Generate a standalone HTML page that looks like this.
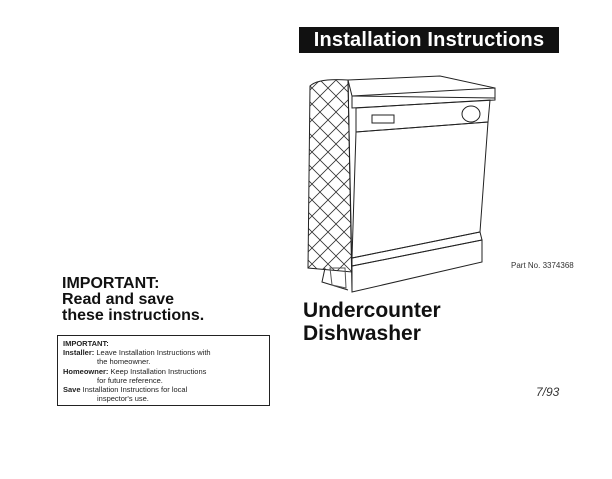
<!DOCTYPE html>
<html><head><meta charset="utf-8"><style>
body{margin:0;width:612px;height:479px;background:#fff;position:relative;overflow:hidden;font-family:"Liberation Sans",sans-serif;color:#111}
.a{position:absolute;white-space:nowrap}
</style></head><body>
<div class="a" style="left:299px;top:27px;width:260px;height:26px;background:#111;color:#fff;font-weight:bold;font-size:20px;line-height:26px;text-align:center;letter-spacing:0.2px">Installation Instructions</div>
<svg class="a" style="left:0;top:0" width="612" height="479">
<defs><pattern id="q" width="16" height="16" patternUnits="userSpaceOnUse"><path d="M0 0L16 16M16 0L0 16" stroke="#333" stroke-width="0.8"/></pattern></defs>
<path d="M310 86 Q318 78 348 80 L352 272 L308 268 Z" fill="url(#q)" stroke="#222"/>
<path d="M348 80 L440 76 L495 88 L495 98 L352 96 Z" fill="none" stroke="#222"/>
<path d="M352 96 L495 88 L495 100 L352 108 Z" fill="none" stroke="#222"/>
<path d="M356 108 L490 100 L488 122 L356 132 Z" fill="none" stroke="#222"/>
<rect x="372" y="115" width="22" height="8" fill="none" stroke="#222"/>
<ellipse cx="471" cy="114" rx="9" ry="8" fill="none" stroke="#222"/>
<path d="M356 132 L488 122 L480 232 L352 258 Z" fill="none" stroke="#222"/>
<path d="M352 258 L480 232 L482 240 L352 266 Z" fill="none" stroke="#222"/>
<path d="M352 266 L482 240 L482 262 L352 292 Z" fill="none" stroke="#222"/>
<path d="M348 80 L352 292 M325 268 L322 282 L348 290" fill="none" stroke="#222"/>
<path d="M330 268 L345 268 L346 288 L332 285 Z" fill="none" stroke="#555"/>
</svg>
<div class="a" style="left:511px;top:261px;font-size:8px;color:#333">Part No. 3374368</div>
<div class="a" style="left:303px;top:299px;font-size:21px;font-weight:bold;line-height:23px">Undercounter<br>Dishwasher</div>
<div class="a" style="left:62px;top:276px;font-size:16px;font-weight:bold;line-height:16px">IMPORTANT:<br>Read and save<br>these instructions.</div>
<div class="a" style="left:57px;top:335px;width:213px;height:71px;border:1.5px solid #222;font-size:7.5px;line-height:9.2px;padding:3px 0 0 5px;box-sizing:border-box;color:#222">
<b>IMPORTANT:</b><br><b>Installer:</b> Leave Installation Instructions with<br><span style="padding-left:34px">the homeowner.</span><br><b>Homeowner:</b> Keep Installation Instructions<br><span style="padding-left:34px">for future reference.</span><br><b>Save</b> Installation Instructions for local<br><span style="padding-left:34px">inspector's use.</span></div>
<div class="a" style="left:536px;top:385px;font-size:12px;font-style:italic;color:#333">7/93</div>
</body></html>
